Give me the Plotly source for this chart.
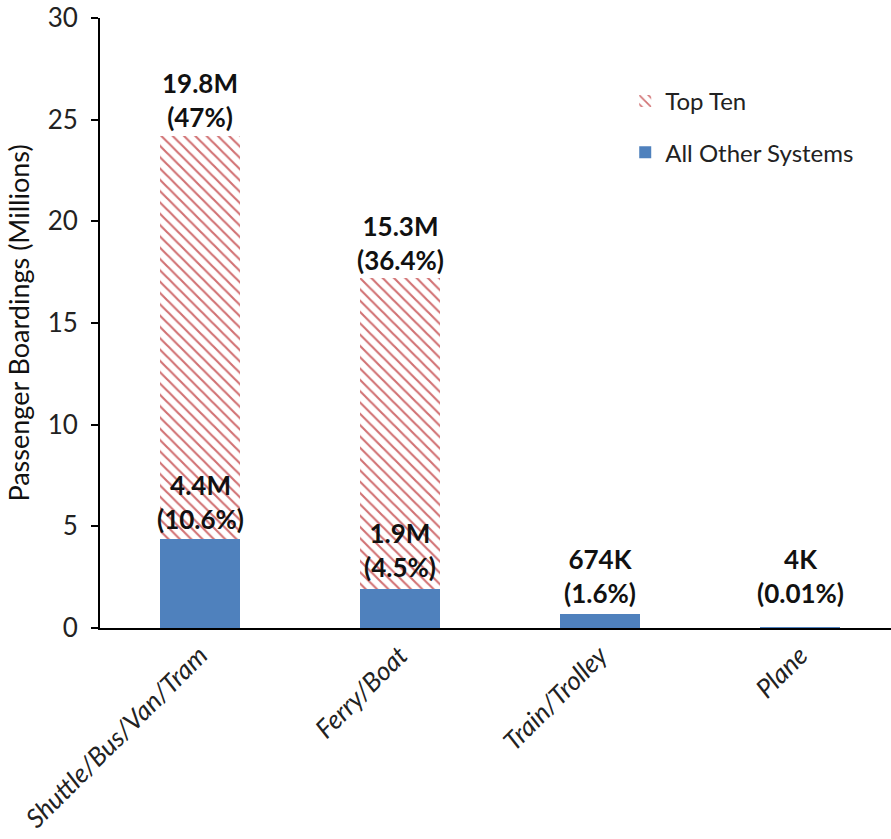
import plotly.graph_objects as go

# Passenger boardings by mode (millions)
modes = ["Shuttle/Bus/Van/Tram", "Ferry/Boat", "Train/Trolley", "Plane"]
all_other = [4.4, 1.9, 0.674, 0.004]
top_ten = [19.8, 15.3, 0.0, 0.0]

# Label text for each segment
top_ten_labels = ["19.8M<br>(47%)", "15.3M<br>(36.4%)", "", ""]
all_other_labels = ["4.4M<br>(10.6%)", "1.9M<br>(4.5%)", "674K<br>(1.6%)", "4K<br>(0.01%)"]

y_ticks = [0, 5, 10, 15, 20, 25, 30]

BLUE = "#4F81BD"
RED = "#C9585A"
FONT = "Lato"

fig = go.Figure()

fig.add_trace(go.Bar(
    x=modes, y=all_other, name="All Other Systems",
    marker=dict(color=BLUE, line=dict(width=0)),
    width=0.4, legendgroup="other", legendrank=2,
))
fig.add_trace(go.Bar(
    x=modes, y=top_ten, name="Top Ten",
    marker=dict(
        color="white", line=dict(width=0),
        pattern=dict(shape="\\", fgcolor=RED, bgcolor="white",
                     size=8, solidity=0.27, fgopacity=0.85),
    ),
    width=0.4, legendgroup="top", legendrank=1,
))

# Value labels, lifted a few pixels above each segment top
top_lift = [1, 0, 0, 0]
other_lift = [2, 4, 3, 17]
annotations = []
for i, m in enumerate(modes):
    if top_ten_labels[i]:
        annotations.append(dict(
            x=m, y=all_other[i] + top_ten[i], text=top_ten_labels[i],
            xref="x", yref="y", yanchor="bottom", showarrow=False,
            yshift=top_lift[i],
            font=dict(family=FONT, size=26, color="#111111", weight="bold"),
        ))
    annotations.append(dict(
        x=m, y=all_other[i], text=all_other_labels[i],
        xref="x", yref="y", yanchor="bottom", showarrow=False,
        yshift=other_lift[i],
        font=dict(family=FONT, size=26, color="#111111", weight="bold"),
    ))

fig.update_layout(
    width=891, height=839,
    margin=dict(l=100, r=0, t=18, b=211),
    paper_bgcolor="white", plot_bgcolor="white",
    barmode="stack", bargap=0.6,
    font=dict(family=FONT, color="#222222"),
    showlegend=True,
    legend=dict(
        x=0.664, y=0.9, xanchor="left", yanchor="top",
        traceorder="grouped", tracegroupgap=17,
        font=dict(family=FONT, size=24, color="#222222"),
        bgcolor="rgba(0,0,0,0)",
    ),
    annotations=annotations,
    xaxis=dict(
        range=[-0.5, 3.455],
        showline=True, linecolor="black", linewidth=2,
        ticks="", tickangle=-45,
        tickfont=dict(family=FONT, size=26, color="#222222", style="italic"),
        showgrid=False, zeroline=False,
    ),
    yaxis=dict(
        range=[0, 30], tickvals=y_ticks,
        showline=True, linecolor="black", linewidth=2,
        ticks="outside", ticklen=7, tickwidth=2, tickcolor="black",
        ticklabelstandoff=8,
        tickfont=dict(family=FONT, size=26, color="#222222"),
        showgrid=False, zeroline=False,
        title=dict(text="Passenger Boardings (Millions)",
                   font=dict(family=FONT, size=27, color="#111111"),
                   standoff=10),
    ),
)

fig.write_html("out.html")
